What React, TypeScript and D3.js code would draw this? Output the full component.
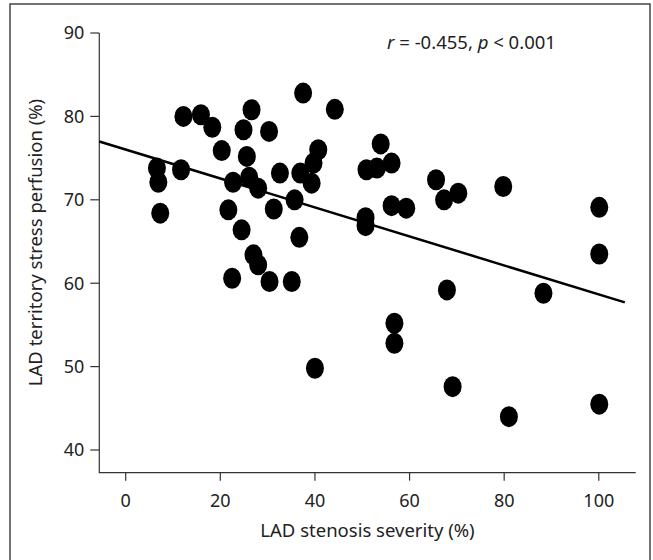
import React from 'react'
import * as d3 from 'd3'

// LAD stenosis severity (%) vs LAD territory stress perfusion (%)
const stenosis = [
  6.6, 6.9, 7.3, 11.7, 12.2, 15.9, 18.3, 20.3, 21.7, 22.7,
  22.5, 24.5, 24.9, 25.6, 26.1, 26.6, 27.0, 28.0, 28.0, 30.3,
  30.4, 31.3, 32.6, 35.1, 35.7, 36.7, 36.9, 37.5, 39.3, 39.7,
  40.7, 40.0, 44.2, 50.7, 50.7, 50.9, 53.1, 53.9, 56.2, 56.2,
  56.8, 56.8, 59.3, 65.6, 67.3, 67.9, 69.1, 70.3, 79.8, 81.0,
  88.3, 100.1, 100.1, 100.1,
]
const perfusion = [
  73.8, 72.1, 68.4, 73.6, 80.0, 80.2, 78.7, 75.9, 68.8, 72.1,
  60.6, 66.4, 78.4, 75.2, 72.7, 80.8, 63.4, 62.2, 71.4, 78.2,
  60.2, 68.9, 73.2, 60.2, 70.0, 65.5, 73.2, 82.8, 72.0, 74.4,
  76.0, 49.8, 80.85, 67.85, 66.9, 73.6, 73.8, 76.7, 74.4, 69.3,
  55.2, 52.8, 69.0, 72.4, 70.0, 59.2, 47.6, 70.8, 71.6, 44.0,
  58.8, 69.1, 63.5, 45.5,
]
const xTicks = [0, 20, 40, 60, 80, 100]
const yTicks = [40, 50, 60, 70, 80, 90]
// fitted regression line
const fitIntercept = 76.03
const fitSlope = -0.1737

const W = 653
const H = 560
const font = '"Noto Sans", "Open Sans", sans-serif'

export default function App() {
  const x = d3.scaleLinear().domain([-5.58, 107.8]).range([99.3, 635.7])
  const y = d3.scaleLinear().domain([37.28, 90]).range([472.7, 33])
  const points = stenosis.map((s, i) => [s, perfusion[i]] as [number, number])
  const [x0, x1] = x.domain()
  const fitX = [x0, 105.5]
  const fit = d3
    .line<number>()
    .x(d => x(d))
    .y(d => y(fitIntercept + fitSlope * d))

  return (
    <svg width={W} height={H} style={{ position: 'absolute', left: 0, top: 0, background: '#fff' }}>
      <rect x={10} y={4} width={640} height={H + 10} fill="#fff" stroke="#444" strokeWidth={1.5} />

      {/* axes */}
      <path d={`M${x(x0)},${y(90)}V${y(y.domain()[0])}H${x(x1)}`} fill="none" stroke="#333" strokeWidth={1.2} />
      {yTicks.map(t => (
        <g key={'y' + t}>
          <line x1={x(x0) - 9} x2={x(x0)} y1={y(t)} y2={y(t)} stroke="#333" strokeWidth={1.2} />
          <text x={x(x0) - 15} y={y(t)} dy="0.36em" textAnchor="end" fontFamily={font} fontSize={18} fill="#222">
            {t}
          </text>
        </g>
      ))}
      {xTicks.map(t => (
        <g key={'x' + t}>
          <line x1={x(t)} x2={x(t)} y1={y(y.domain()[0])} y2={y(y.domain()[0]) + 8} stroke="#333" strokeWidth={1.2} />
          <text x={x(t)} y={506.5} textAnchor="middle" fontFamily={font} fontSize={18} fill="#222">
            {t}
          </text>
        </g>
      ))}

      <text x={367.5} y={536.5} textAnchor="middle" fontFamily={font} fontSize={18.5} fill="#222">
        LAD stenosis severity (%)
      </text>
      <text
        transform="translate(41.5,242.5) rotate(-90)"
        textAnchor="middle"
        fontFamily={font}
        fontSize={18.5}
        fill="#222"
      >
        LAD territory stress perfusion (%)
      </text>

      {/* regression line */}
      <path d={fit(fitX) ?? ''} fill="none" stroke="#000" strokeWidth={2.5} />

      {points.map((p, i) => (
        <ellipse key={i} cx={x(p[0])} cy={y(p[1])} rx={9} ry={10.5} fill="#000" />
      ))}

      <text x={471.5} y={49} textAnchor="middle" fontFamily={font} fontSize={18.5} fill="#222">
        <tspan fontStyle="italic">r</tspan> = -0.455, <tspan fontStyle="italic">p</tspan> {'<'} 0.001
      </text>
    </svg>
  )
}
